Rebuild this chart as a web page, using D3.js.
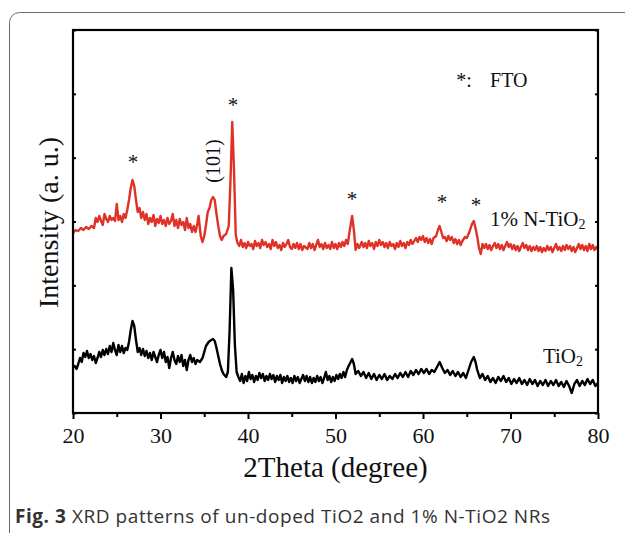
<!DOCTYPE html>
<html>
<head>
<meta charset="utf-8">
<script src="https://cdn.jsdelivr.net/npm/d3@7"></script>
<style>
  body { margin: 0; background: #fff; }
  svg { display: block; }
  .serif { font-family: "Liberation Serif", "Times New Roman", serif; fill: #111; }
</style>
</head>
<body>
<svg id="chart" width="625" height="533"></svg>
<script>
// 2Theta (deg) and intensity (a.u., offset per sample)
const angleNTiO2 = [20.0,20.3,20.6,20.9,21.2,21.5,21.8,22.1,22.4,22.6,22.8,23.0,23.2,23.4,23.6,23.8,24.0,24.2,24.4,24.6,24.8,25.0,25.2,25.4,25.6,25.8,26.0,26.2,26.4,26.6,26.8,27.0,27.2,27.4,27.6,27.8,28.0,28.2,28.4,28.6,28.8,29.0,29.2,29.4,29.6,29.8,30.0,30.2,30.4,30.6,30.8,31.0,31.2,31.4,31.6,31.8,32.0,32.2,32.4,32.6,32.8,33.0,33.2,33.4,33.6,33.8,34.0,34.2,34.35,34.6,34.8,35.0,35.2,35.4,35.6,35.8,36.0,36.2,36.4,36.6,36.8,37.0,37.2,37.5,37.8,38.0,38.2,38.4,38.6,38.8,39.0,39.2,39.4,39.6,39.8,40.0,40.2,40.4,40.6,40.8,41.0,41.2,41.4,41.6,41.8,42.0,42.2,42.4,42.6,42.8,43.0,43.2,43.4,43.6,43.8,44.0,44.2,44.4,44.6,44.8,45.0,45.2,45.4,45.6,45.8,46.0,46.2,46.4,46.8,47.0,47.2,47.4,47.6,47.8,48.0,48.2,48.4,48.6,48.8,49.0,49.2,49.4,49.6,49.8,50.0,50.2,50.4,50.6,50.8,51.0,51.2,51.4,51.6,51.9,52.1,52.3,52.5,52.7,53.0,53.2,53.4,53.6,53.8,54.0,54.2,54.4,54.6,54.8,55.0,55.2,55.4,55.6,55.8,56.0,56.2,56.4,56.6,56.8,57.0,57.2,57.4,57.6,57.8,58.0,58.2,58.4,58.6,58.8,59.0,59.2,59.4,59.6,59.8,60.0,60.2,60.4,60.6,60.8,61.0,61.2,61.5,61.7,61.9,62.1,62.3,62.5,62.7,62.9,63.1,63.3,63.5,63.7,63.9,64.1,64.3,64.5,64.8,65.0,65.3,65.6,65.8,66.0,66.2,66.4,66.6,66.8,67.0,67.2,67.4,67.6,67.8,68.0,68.2,68.4,68.6,68.8,69.0,69.2,69.4,69.6,69.8,70.0,70.2,70.4,70.6,70.8,71.0,71.2,71.4,71.6,71.8,72.0,72.2,72.4,72.6,72.8,73.0,73.2,73.4,73.6,73.8,74.0,74.2,74.4,74.6,74.8,75.0,75.2,75.4,75.6,75.8,76.0,76.2,76.4,76.6,76.8,77.0,77.2,77.4,77.6,77.8,78.0,78.2,78.4,78.6,78.8,79.0,79.2,79.4,79.6,79.8,80.0];
const intensityNTiO2 = [180,183,182,185,183,186,184,187,185,195,191,197,192,188,199,194,191,197,193,195,192,209,193,197,191,199,195,203,213,225,233,227,213,201,205,195,201,193,199,189,195,191,198,187,194,190,197,189,193,187,195,189,192,199,187,193,185,194,188,191,183,195,185,189,181,187,181,189,197,177,171,177,188,201,205,213,216,213,199,187,177,173,177,179,187,233,291,243,178,170,167,173,166,170,165,171,167,169,164,172,167,170,165,173,168,171,166,169,164,173,167,171,165,168,163,170,166,169,173,166,164,169,165,170,164,169,163,167,164,170,165,169,163,168,173,166,169,164,170,165,168,164,171,165,169,164,170,166,171,167,173,169,181,197,183,163,169,165,171,166,170,165,172,167,170,164,171,167,173,168,171,166,170,165,171,167,169,164,170,166,172,167,170,165,171,168,173,169,172,175,171,176,173,177,171,175,170,174,169,175,177,183,187,181,175,176,172,177,173,176,170,174,169,173,168,172,176,175,181,189,192,185,176,165,159,169,165,169,164,168,163,167,170,165,169,164,168,163,167,171,166,169,164,168,163,167,162,166,170,165,168,163,167,162,166,163,167,162,166,161,165,162,167,163,166,161,165,169,163,166,162,167,163,168,164,167,162,166,161,165,169,164,168,163,167,162,169,164,168,163,166,163];

const angleTiO2 = [20.0,20.2,20.4,20.6,20.8,21.0,21.2,21.4,21.6,21.8,22.0,22.2,22.4,22.6,22.8,23.0,23.2,23.4,23.6,23.8,24.0,24.2,24.4,24.6,24.8,25.0,25.2,25.4,25.6,25.8,26.0,26.2,26.4,26.6,26.8,27.0,27.2,27.4,27.6,27.8,28.0,28.2,28.4,28.6,28.8,29.0,29.2,29.4,29.6,29.8,30.0,30.2,30.4,30.6,30.8,31.0,31.2,31.4,31.6,31.8,32.0,32.2,32.4,32.6,32.8,33.0,33.2,33.4,33.6,33.8,34.0,34.2,34.5,34.8,35.0,35.2,35.5,35.8,36.0,36.2,36.4,36.6,36.8,37.0,37.2,37.5,37.7,37.9,38.1,38.3,38.5,38.7,38.9,39.1,39.3,39.5,39.7,39.9,40.1,40.3,40.5,40.7,40.9,41.1,41.3,41.5,41.7,41.9,42.1,42.3,42.5,42.7,42.9,43.1,43.3,43.5,43.7,43.9,44.1,44.3,44.5,44.7,44.9,45.1,45.3,45.5,45.7,45.9,46.1,46.3,46.5,46.7,46.9,47.1,47.3,47.5,47.7,47.9,48.1,48.3,48.5,48.7,48.9,49.1,49.3,49.5,49.7,49.9,50.1,50.3,50.5,50.7,50.9,51.1,51.3,51.5,51.9,52.1,52.3,52.6,52.9,53.2,53.5,53.8,54.1,54.4,54.7,55.0,55.3,55.6,55.9,56.2,56.5,56.8,57.1,57.4,57.7,58.0,58.3,58.6,58.9,59.2,59.5,59.8,60.1,60.4,60.7,61.0,61.3,61.6,61.9,62.2,62.5,62.8,63.1,63.4,63.7,64.0,64.3,64.6,64.9,65.2,65.5,65.8,66.0,66.2,66.5,66.8,67.1,67.4,67.7,68.0,68.3,68.6,68.9,69.2,69.5,69.8,70.1,70.4,70.7,71.0,71.3,71.6,71.9,72.2,72.5,72.8,73.1,73.4,73.7,74.0,74.3,74.6,74.9,75.2,75.5,75.8,76.1,76.4,76.7,77.0,77.3,77.6,77.9,78.2,78.5,78.8,79.1,79.4,79.7,80.0];
const intensityTiO2 = [45,47,44,49,55,51,60,56,62,55,59,53,57,50,55,61,56,63,58,64,59,67,61,70,63,58,68,61,67,60,65,63,71,83,92,87,73,61,65,58,64,57,62,55,60,53,61,56,51,58,63,55,61,51,56,45,55,61,53,49,57,51,58,47,53,43,53,58,51,55,49,53,51,55,61,67,71,73,74,72,65,57,49,43,39,36,41,83,145,123,68,41,36,32,39,30,37,32,41,34,38,31,37,33,40,35,39,32,37,33,39,34,38,31,37,33,38,30,36,32,37,31,35,30,37,32,36,30,34,38,32,37,31,36,30,35,31,37,32,36,30,35,41,33,37,31,36,32,38,34,39,35,41,36,43,47,54,49,39,42,37,41,35,40,34,39,33,38,34,39,33,37,34,39,35,40,36,41,36,42,38,43,39,44,40,44,39,43,41,46,51,45,40,43,38,42,37,41,36,40,35,43,51,56,51,43,35,39,33,37,31,35,30,36,32,37,31,35,29,34,30,35,29,33,28,34,29,33,27,32,28,33,27,32,28,33,27,31,26,32,27,20,29,33,27,32,28,34,29,33,27,30];

const xTicks = [20, 30, 40, 50, 60, 70, 80];
const xMinorTicks = [25, 35, 45, 55, 65, 75];
const yTickCount = 6;

// FTO peak markers: angle, intensity at star centre
const starAngles = [26.86, 38.29, 51.89, 62.17, 66.06];
const starIntensity = [253, 310, 216, 213, 210];

const width = 625, height = 533;
const margin = { top: 30, right: 27, bottom: 120, left: 73 };

const x = d3.scaleLinear().domain([20, 80]).range([margin.left, width - margin.right]);
const y = d3.scaleLinear().domain([0, 383]).range([height - margin.bottom, margin.top]);
const yTicks = d3.range(0, yTickCount + 1).map(i => i * 383 / yTickCount);

const svg = d3.select("#chart");

// outer figure border (rounded, cut by page edge)
svg.append("rect")
    .attr("x", 9.5).attr("y", 12.5)
    .attr("width", 700).attr("height", 540)
    .attr("rx", 10)
    .attr("fill", "none")
    .attr("stroke", "#6a6a6a")
    .attr("stroke-width", 1);

const line = d3.line()
    .x(d => x(d[0]))
    .y(d => y(d[1]));

svg.append("path")
    .datum(d3.zip(angleTiO2, intensityTiO2))
    .attr("d", line)
    .attr("fill", "none")
    .attr("stroke", "#000")
    .attr("stroke-width", 2.4)
    .attr("stroke-linejoin", "round");

svg.append("path")
    .datum(d3.zip(angleNTiO2, intensityNTiO2))
    .attr("d", line)
    .attr("fill", "none")
    .attr("stroke", "#e03127")
    .attr("stroke-width", 2.4)
    .attr("stroke-linejoin", "round");

// axes
const bottom = svg.append("g")
    .attr("transform", `translate(0,${y(0)})`)
    .call(d3.axisBottom(x).tickValues(xTicks).tickSize(6).tickPadding(8).tickFormat(d3.format("d")));
bottom.append("g")
    .call(d3.axisBottom(x).tickValues(xMinorTicks).tickSize(4).tickFormat(""));

svg.append("g")
    .attr("transform", `translate(${x(20)},0)`)
    .call(d3.axisRight(y).tickValues(yTicks).tickSize(3).tickFormat(""));
svg.append("g")
    .attr("transform", `translate(${x(80)},0)`)
    .call(d3.axisLeft(y).tickValues(yTicks).tickSize(3).tickFormat(""));

svg.selectAll(".domain").remove();
svg.selectAll(".tick line").attr("stroke", "#000").attr("stroke-width", 2);
bottom.selectAll(".tick text")
    .attr("class", "serif")
    .style("font-size", "22px")
    .attr("fill", "#111");

// plot frame
svg.append("rect")
    .attr("x", x(20)).attr("y", y(383))
    .attr("width", x(80) - x(20)).attr("height", y(0) - y(383))
    .attr("fill", "none")
    .attr("stroke", "#000")
    .attr("stroke-width", 2.2);

// axis titles
svg.append("text")
    .attr("class", "serif")
    .attr("x", (x(20) + x(80)) / 2).attr("y", 477)
    .attr("text-anchor", "middle")
    .style("font-size", "29px")
    .text("2Theta (degree)");

svg.append("text")
    .attr("class", "serif")
    .attr("transform", `translate(58,${(y(0) + y(383)) / 2 + 1}) rotate(-90)`)
    .attr("text-anchor", "middle")
    .style("font-size", "28px")
    .text("Intensity (a. u.)");

// peak markers
svg.selectAll(".star")
    .data(d3.zip(starAngles, starIntensity))
    .enter().append("text")
    .attr("class", "serif star")
    .attr("x", d => x(d[0])).attr("y", d => y(d[1]) + 9)
    .attr("text-anchor", "middle")
    .style("font-size", "21px")
    .text("*");

svg.append("text")
    .attr("class", "serif")
    .attr("transform", `translate(${x(36.0) + 7},${y(252)}) rotate(-90)`)
    .attr("text-anchor", "middle")
    .style("font-size", "20px")
    .text("(101)");

svg.append("text")
    .attr("class", "serif")
    .attr("x", x(63.8)).attr("y", y(326))
    .style("font-size", "20px")
    .text("*:");
svg.append("text")
    .attr("class", "serif")
    .attr("x", x(67.66)).attr("y", y(326))
    .style("font-size", "20px")
    .text("FTO");

// sample labels
const lab1 = svg.append("text")
    .attr("class", "serif")
    .attr("x", x(67.66)).attr("y", y(187))
    .style("font-size", "21px");
lab1.append("tspan").text("1% N-TiO");
lab1.append("tspan").attr("dy", 3).style("font-size", "14px").text("2");

const lab2 = svg.append("text")
    .attr("class", "serif")
    .attr("x", x(73.7)).attr("y", y(50))
    .style("font-size", "21px");
lab2.append("tspan").text("TiO");
lab2.append("tspan").attr("dy", 3).style("font-size", "14px").text("2");

// figure caption
const cap = svg.append("text")
    .attr("x", 15).attr("y", 523)
    .style("font-family", "'Open Sans', 'Noto Sans', sans-serif")
    .style("font-size", "19px")
    .style("letter-spacing", "0.55px")
    .attr("fill", "#333");
cap.append("tspan").style("font-weight", "bold").text("Fig. 3");
cap.append("tspan").text(" XRD patterns of un-doped TiO2 and 1% N-TiO2 NRs");
</script>
</body>
</html>
